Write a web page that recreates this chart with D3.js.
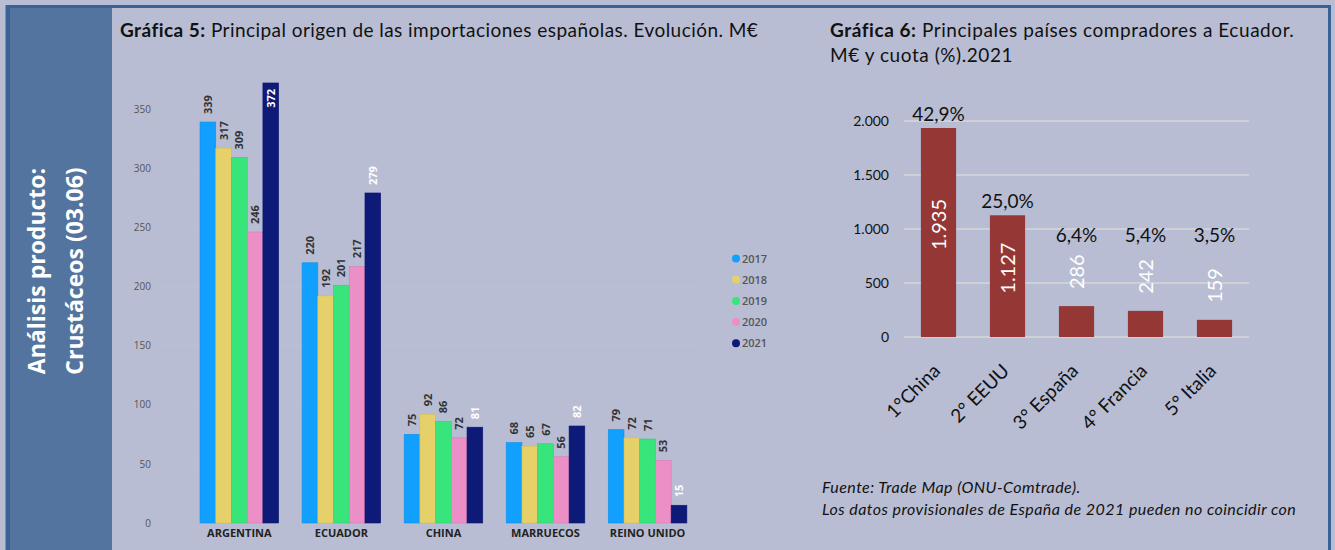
<!DOCTYPE html>
<html>
<head>
<meta charset="utf-8">
<script src="https://cdn.jsdelivr.net/npm/d3@7"></script>
<style>
  body { margin: 0; background: #b8bdd3; }
  svg { display: block; }
</style>
</head>
<body>
<div id="board"></div>
<script>
// Gráfica 5 data
var countries = ["ARGENTINA", "ECUADOR", "CHINA", "MARRUECOS", "REINO UNIDO"];
var years = ["2017", "2018", "2019", "2020", "2021"];
var imp2017 = [339, 220, 75, 68, 79];
var imp2018 = [317, 192, 92, 65, 72];
var imp2019 = [309, 201, 86, 67, 71];
var imp2020 = [246, 217, 72, 56, 53];
var imp2021 = [372, 279, 81, 82, 15];
var yTicks5 = [0, 50, 100, 150, 200, 250, 300, 350];

// Gráfica 6 data
var buyers = ["1°China", "2° EEUU", "3° España", "4° Francia", "5° Italia"];
var buyerValues = [1935, 1127, 286, 242, 159];
var buyerShare = ["42,9%", "25,0%", "6,4%", "5,4%", "3,5%"];
var yTicks6 = [0, 500, 1000, 1500, 2000];

var yearColors = ["#12a0ff", "#e6d06a", "#38e57a", "#ec8fc6", "#0e1a78"];
var series = [imp2017, imp2018, imp2019, imp2020, imp2021];

var es = d3.formatLocale({ decimal: ",", thousands: ".", grouping: [3], currency: ["", " €"] });
var fmtK = es.format(",d");

var svg = d3.select('#board').append('svg')
  .attr('width', 1335)
  .attr('height', 550);

svg.append('rect')
  .attr('width', 1335).attr('height', 550)
  .attr('fill', '#b8bdd3');

// side panel + frame
svg.append('rect')
  .attr('x', 7).attr('y', 8)
  .attr('width', 105).attr('height', 560)
  .attr('fill', '#5474a0');

svg.append('rect')
  .attr('x', 7).attr('y', 6.5)
  .attr('width', 1322.5).attr('height', 560)
  .attr('fill', 'none')
  .attr('stroke', '#3a6294')
  .attr('stroke-width', 3);

svg.append('line')
  .attr('x1', 8).attr('x2', 8)
  .attr('y1', 6).attr('y2', 550)
  .attr('stroke', '#3a6294')
  .attr('stroke-width', 4);

var side = svg.append('g')
  .attr('transform', 'translate(0,271) rotate(-90)');
side.selectAll('text')
  .data(["Análisis producto:", "Crustáceos (03.06)"]).enter().append('text')
  .attr('x', 0)
  .attr('y', function(d, i) { return 45 + i * 38 })
  .attr('text-anchor', 'middle')
  .attr('font-family', 'Open Sans')
  .attr('font-weight', 'bold')
  .attr('font-size', '23px')
  .attr('fill', 'white')
  .text(function(d) { return d });

// ---------- Gráfica 5 ----------
var title5 = svg.append('text')
  .attr('x', 120).attr('y', 37)
  .attr('font-family', 'Lato')
  .attr('font-size', '19px')
  .attr('letter-spacing', '0.45px')
  .attr('fill', '#111');
title5.append('tspan').attr('font-weight', 'bold').text('Gráfica 5:');
title5.append('tspan').text(' Principal origen de las importaciones españolas. Evolución. M€');

var x5 = d3.scaleBand()
  .domain(countries)
  .range([188.3, 698.6])
  .paddingInner(0.23)
  .paddingOuter(0.115);

var xIn = d3.scaleBand()
  .domain(years)
  .range([0, x5.bandwidth()]);

var y5 = d3.scaleLinear()
  .domain([0, 350])
  .range([523, 109]);

var grid5 = svg.append('g');
grid5.selectAll('line')
  .data(yTicks5.slice(1)).enter().append('line')
  .attr('x1', 160).attr('x2', 700)
  .attr('y1', function(d) { return y5(d) })
  .attr('y2', function(d) { return y5(d) })
  .attr('stroke', '#c4c8dc')
  .attr('stroke-dasharray', '1,3');

var yAxis5 = svg.append('g')
  .attr('transform', 'translate(151,0)')
  .call(d3.axisLeft(y5).tickValues(yTicks5).tickSize(0).tickPadding(0));
yAxis5.select('.domain').remove();
yAxis5.selectAll('text')
  .attr('font-family', 'Open Sans')
  .attr('font-size', '10px')
  .attr('fill', '#555');

var groups = svg.selectAll('.group5')
  .data(countries).enter().append('g')
  .attr('class', 'group5')
  .attr('transform', function(d) { return 'translate(' + x5(d) + ',0)' });

function groupRows(d, ci) {
  return years.map(function(yr, si) { return { year: yr, si: si, v: series[si][ci] } });
}

groups.selectAll('rect')
  .data(groupRows)
  .enter().append('rect')
  .attr('x', function(d) { return xIn(d.year) })
  .attr('y', function(d) { return y5(d.v) })
  .attr('width', xIn.bandwidth())
  .attr('height', function(d) { return y5(0) - y5(d.v) })
  .attr('fill', function(d) { return yearColors[d.si] })
  .attr('stroke', function(d) { return d3.color(yearColors[d.si]).darker(0.3) })
  .attr('stroke-width', 0.6);

groups.selectAll('.val5')
  .data(groupRows)
  .enter().append('text')
  .attr('class', 'val5')
  .attr('transform', function(d) {
    var inside = y5(d.v) - 26 < 83;
    var yy = inside ? y5(d.v) + 6 : y5(d.v) - 8;
    return 'translate(' + (xIn(d.year) + xIn.bandwidth() / 2 + 4) + ',' + yy + ') rotate(-90)';
  })
  .attr('text-anchor', function(d) { return y5(d.v) - 26 < 83 ? 'end' : 'start' })
  .attr('font-family', 'Open Sans')
  .attr('font-size', '11px')
  .attr('font-weight', 'bold')
  .attr('fill', function(d) { return d.si === 4 ? 'white' : '#333' })
  .text(function(d) { return d.v });

var xAxis5 = svg.append('g')
  .attr('transform', 'translate(0,523)')
  .call(d3.axisBottom(x5).tickSize(0).tickPadding(6));
xAxis5.select('.domain').remove();
xAxis5.selectAll('text')
  .attr('font-family', 'Open Sans')
  .attr('font-weight', 'bold')
  .attr('font-size', '11px')
  .attr('fill', '#222');

var legend = svg.selectAll('.legend5')
  .data(years).enter().append('g')
  .attr('class', 'legend5')
  .attr('transform', function(d, i) { return 'translate(736,' + (258.5 + i * 21.2) + ')' });
legend.append('circle')
  .attr('r', 4)
  .attr('fill', function(d, i) { return yearColors[i] });
legend.append('text')
  .attr('x', 6).attr('y', 4)
  .attr('font-family', 'Open Sans')
  .attr('font-weight', '600')
  .attr('font-size', '11px')
  .attr('fill', '#555')
  .text(function(d) { return d });

// ---------- Gráfica 6 ----------
var title6 = svg.append('text')
  .attr('font-family', 'Lato')
  .attr('font-size', '19px')
  .attr('letter-spacing', '0.55px')
  .attr('fill', '#111');
var t6a = title6.append('tspan').attr('x', 830).attr('y', 37);
t6a.append('tspan').attr('font-weight', 'bold').text('Gráfica 6:');
t6a.append('tspan').text(' Principales países compradores a Ecuador.');
title6.append('tspan').attr('x', 830).attr('y', 62).text('M€ y cuota (%).2021');

var x6 = d3.scaleBand()
  .domain(buyers)
  .range([904, 1249])
  .paddingInner(0.49)
  .paddingOuter(0.245);

var y6 = d3.scaleLinear()
  .domain([0, 2000])
  .range([337, 121]);

var grid6 = svg.append('g');
grid6.selectAll('line')
  .data(yTicks6).enter().append('line')
  .attr('x1', 904).attr('x2', 1249)
  .attr('y1', function(d) { return y6(d) })
  .attr('y2', function(d) { return y6(d) })
  .attr('stroke', '#d9d9d9')
  .attr('stroke-width', 1.5);

var yAxis6 = svg.append('g')
  .attr('transform', 'translate(889,0)')
  .call(d3.axisLeft(y6).tickValues(yTicks6).tickFormat(fmtK).tickSize(0).tickPadding(0));
yAxis6.select('.domain').remove();
yAxis6.selectAll('text')
  .attr('font-family', 'Lato')
  .attr('font-size', '14px')
  .attr('fill', '#111');

svg.selectAll('.bar6')
  .data(buyerValues).enter().append('rect')
  .attr('class', 'bar6')
  .attr('x', function(d, i) { return x6(buyers[i]) })
  .attr('y', function(d) { return y6(d) })
  .attr('width', x6.bandwidth())
  .attr('height', function(d) { return y6(0) - y6(d) })
  .attr('fill', '#953735');

// value labels: inside big bars, above small ones
svg.selectAll('.val6')
  .data(buyerValues).enter().append('text')
  .attr('class', 'val6')
  .attr('transform', function(d, i) {
    var cx = x6(buyers[i]) + x6.bandwidth() / 2 + 7;
    var big = d > 1000;
    var yy = big ? (y6(d) + y6(0)) / 2 - 8 : y6(d) - 17;
    return 'translate(' + cx + ',' + yy + ') rotate(-90)';
  })
  .attr('text-anchor', function(d) { return d > 1000 ? 'middle' : 'start' })
  .attr('font-family', 'Lato')
  .attr('font-size', '20px')
  .attr('fill', 'white')
  .text(function(d) { return fmtK(d) });

svg.selectAll('.share6')
  .data(buyerShare).enter().append('text')
  .attr('class', 'share6')
  .attr('x', function(d, i) { return x6(buyers[i]) + x6.bandwidth() / 2 })
  .attr('y', function(d, i) { return Math.min(y6(buyerValues[i]) - 7, y6(880)) })
  .attr('text-anchor', 'middle')
  .attr('font-family', 'Lato')
  .attr('font-size', '19px')
  .attr('fill', '#111')
  .text(function(d) { return d });

svg.selectAll('.cat6')
  .data(buyers).enter().append('text')
  .attr('class', 'cat6')
  .attr('transform', function(d) {
    return 'translate(' + (x6(d) + x6.bandwidth() / 2 + 3) + ',372) rotate(-45)';
  })
  .attr('text-anchor', 'end')
  .attr('font-family', 'Lato')
  .attr('font-size', '19px')
  .attr('fill', '#111')
  .text(function(d) { return d });

svg.selectAll('.note')
  .data(["Fuente: Trade Map (ONU-Comtrade).", "Los datos provisionales de España de 2021 pueden no coincidir con"])
  .enter().append('text')
  .attr('class', 'note')
  .attr('x', 822)
  .attr('y', function(d, i) { return 493 + i * 22 })
  .attr('font-family', 'Lato')
  .attr('font-style', 'italic')
  .attr('font-size', '16px')
  .attr('letter-spacing', '0.45px')
  .attr('fill', '#111')
  .text(function(d) { return d });
</script>
</body>
</html>
